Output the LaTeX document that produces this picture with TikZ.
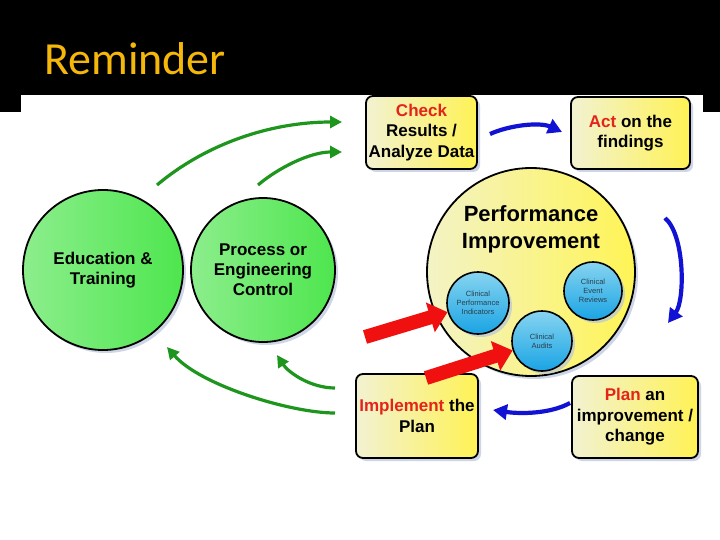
\documentclass[tikz,border=0pt]{standalone}
\usepackage{fontspec}
\setmainfont{Liberation Sans}
\newfontfamily\titlefont{Carlito}
\usetikzlibrary{arrows.meta,shadows}
\definecolor{titleyel}{HTML}{F5B80A}
\definecolor{boxL}{HTML}{F2F2D2}
\definecolor{boxR}{HTML}{FFF255}
\definecolor{grnL}{HTML}{8CEE8C}
\definecolor{grnR}{HTML}{4EE64E}
\definecolor{bigL}{HTML}{F3F3C6}
\definecolor{bigR}{HTML}{FFF455}
\definecolor{bluT}{HTML}{86D4F0}
\definecolor{bluB}{HTML}{1AA4E4}
\definecolor{keyred}{HTML}{E4231B}
\definecolor{arrgreen}{HTML}{1E961E}
\definecolor{arrblue}{HTML}{1212D4}
\definecolor{arrred}{HTML}{F01010}
\definecolor{smalltxt}{HTML}{2A3E4C}
\definecolor{shadowc}{HTML}{B8C4DC}
\tikzset{
  shd/.style={drop shadow={shadow xshift=3pt, shadow yshift=-3pt, fill=shadowc, opacity=0.7}},
  stepbox/.style={shd, draw=black, line width=1.8pt, rounded corners=7pt,
    left color=boxL, right color=boxR, align=center, inner sep=0pt,
    font=\bfseries\fontsize{17}{20.5}\selectfont},
  greencirc/.style={shd, circle, draw=black, line width=1.8pt, inner sep=0pt,
    left color=grnL, right color=grnR, align=center,
    font=\bfseries\fontsize{17}{20}\selectfont},
  bigcirc/.style={shd, circle, draw=black, line width=1.8pt, inner sep=0pt,
    left color=bigL, right color=bigR},
  bluecirc/.style={shd, circle, draw=black, line width=1.6pt, inner sep=0pt,
    top color=bluT, bottom color=bluB, align=center, text=smalltxt,
    font=\fontsize{7.5}{9}\selectfont},
  garrow/.style={draw=arrgreen, line width=3.2pt, -{Triangle[length=12pt,width=12pt]}},
  barrow/.style={draw=arrblue, line width=4.2pt, -{Triangle[length=14pt,width=15pt]}},
  rarrow/.style={draw=arrred, line width=14pt, -{Triangle[length=18pt,width=30pt]}},
}
\begin{document}
\begin{tikzpicture}[x=1pt,y=-1pt]
\useasboundingbox (0,0) rectangle (720,540);
\fill[white] (0,0) rectangle (720,540);
\fill[black] (0,0) rectangle (720,112);
\fill[white] (21,95) rectangle (703,540);
\node[anchor=base west, inner sep=0pt, text=titleyel, font=\titlefont\fontsize{46}{50}\selectfont] (title) at (44,75) {Reminder};

% boxes
\node[stepbox, minimum width=111pt, minimum height=73pt] (check) at (421.5,132.5)
  {\textcolor{keyred}{Check}\\Results /\\Analyze Data};
\node[stepbox, minimum width=119pt, minimum height=72pt] (act) at (630.5,133)
  {\textcolor{keyred}{Act} on the\\findings};
\node[stepbox, minimum width=122pt, minimum height=84pt] (impl) at (417,416)
  {\textcolor{keyred}{Implement} the\\Plan};
\node[stepbox, minimum width=126pt, minimum height=82pt] (plan) at (635,417)
  {\textcolor{keyred}{Plan} an\\improvement /\\change};

% green circles
\node[greencirc, minimum size=160pt] (edu) at (103,270) {Education \&\\Training};
\node[greencirc, minimum size=144pt] (proc) at (263,270) {Process or\\Engineering\\Control};

% performance improvement
\node[bigcirc, minimum size=208pt] (perf) at (531,272) {};
\node[align=center, inner sep=0pt, font=\bfseries\fontsize{22}{27}\selectfont] (perftxt) at (531,229) {Performance\\Improvement};
\node[bluecirc, minimum size=62pt] (cpi) at (478,303) {Clinical\\Performance\\Indicators};
\node[bluecirc, minimum size=58pt] (cer) at (593,291) {Clinical\\Event\\Reviews};
\node[bluecirc, minimum size=60pt] (ca) at (542,341) {Clinical\\Audits};

% blue cycle arrows
\coordinate (b1s) at (490,134);
\coordinate (b1e) at (562,132);
\draw[barrow] (b1s) .. controls (510,125) and (540,122) .. (b1e);
\coordinate (b2s) at (665,218);
\coordinate (b2e) at (668,323);
\draw[barrow] (b2s) .. controls (685,235) and (685,300) .. (b2e);
\coordinate (b3s) at (570,403);
\coordinate (b3e) at (493,410);
\draw[barrow] (b3s) .. controls (550,414) and (520,414) .. (b3e);

% green arrows
\coordinate (g1s) at (157,185);
\coordinate (g1e) at (342,122);
\draw[garrow] (g1s) .. controls (207,143) and (272,122) .. (g1e);
\coordinate (g2s) at (258,185);
\coordinate (g2e) at (342,152);
\draw[garrow] (g2s) .. controls (278,168) and (310,152) .. (g2e);
\coordinate (g3s) at (335,413);
\coordinate (g3e) at (167,347);
\draw[garrow] (g3s) .. controls (290,413) and (200,385) .. (g3e);
\coordinate (g4s) at (335,388);
\coordinate (g4e) at (277,355);
\draw[garrow] (g4s) .. controls (310,388) and (288,372) .. (g4e);

% red block arrows
\coordinate (r1s) at (365,337);
\coordinate (r2s) at (426,378);
\draw[rarrow] (r1s) -- (cpi);
\draw[rarrow] (r2s) -- (ca);
\end{tikzpicture}
\end{document}
